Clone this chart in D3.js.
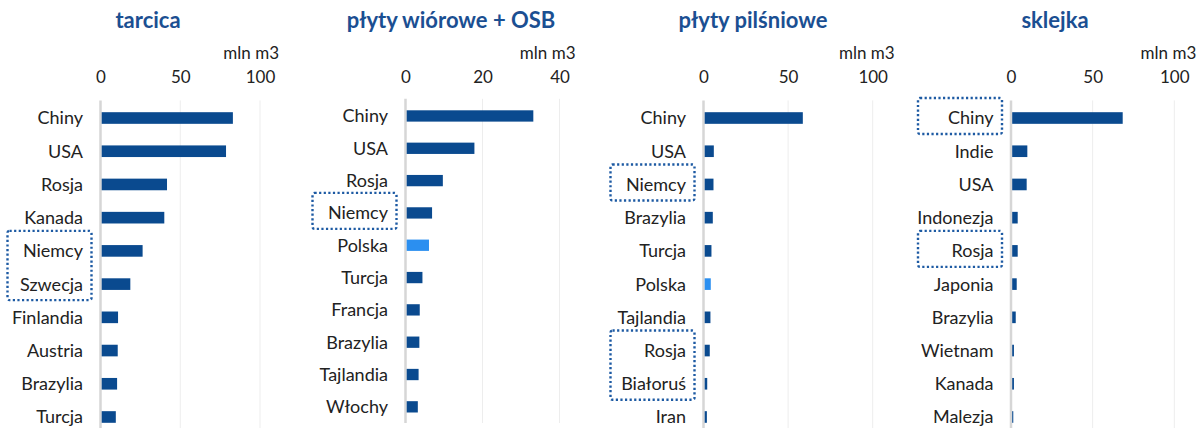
<!DOCTYPE html>
<html>
<head>
<meta charset="utf-8">
<script src="https://cdn.jsdelivr.net/npm/d3@7"></script>
<style>
    body { margin: 0; background: #fff; }
    svg { display: block; font-family: Lato, "Noto Sans", sans-serif; }
</style>
</head>
<body>
<svg id="chart" width="1203" height="428"></svg>
<script>
// data (mln m3)
const titles = ["tarcica", "płyty wiórowe + OSB", "płyty pilśniowe", "sklejka"];
const unitLabel = "mln m3";

const tarcicaCountries = ["Chiny", "USA", "Rosja", "Kanada", "Niemcy", "Szwecja", "Finlandia", "Austria", "Brazylia", "Turcja"];
const tarcicaValues = [83, 78.7, 41.7, 40, 26.4, 18.7, 11, 10.8, 10.4, 9.6];
const tarcicaTicks = [0, 50, 100];
const tarcicaBoxes = [["Niemcy", "Szwecja"]];

const osbCountries = ["Chiny", "USA", "Rosja", "Niemcy", "Polska", "Turcja", "Francja", "Brazylia", "Tajlandia", "Włochy"];
const osbValues = [33.2, 17.9, 9.7, 6.9, 6.1, 4.4, 3.7, 3.6, 3.4, 3.2];
const osbTicks = [0, 20, 40];
const osbBoxes = [["Niemcy"]];

const pilsnioweCountries = ["Chiny", "USA", "Niemcy", "Brazylia", "Turcja", "Polska", "Tajlandia", "Rosja", "Białoruś", "Iran"];
const pilsnioweValues = [58.7, 6.1, 5.9, 5.5, 4.7, 4.3, 4.1, 3.7, 2.2, 2.0];
const pilsnioweTicks = [0, 50, 100];
const pilsnioweBoxes = [["Niemcy"], ["Rosja", "Białoruś"]];

const sklejkaCountries = ["Chiny", "Indie", "USA", "Indonezja", "Rosja", "Japonia", "Brazylia", "Wietnam", "Kanada", "Malezja"];
const sklejkaValues = [68.4, 10, 9.6, 4.1, 4.1, 3.5, 2.9, 1.8, 1.8, 1.4];
const sklejkaTicks = [0, 50, 100];
const sklejkaBoxes = [["Chiny"], ["Rosja"]];

const highlight = "Polska";

// panel geometry
const panels = [
    {title: titles[0], cats: tarcicaCountries, vals: tarcicaValues, ticks: tarcicaTicks, boxes: tarcicaBoxes,
        cx: 148, x: [100.5, 260], y: [101.4, 433.6], unitDx: 19},
    {title: titles[1], cats: osbCountries, vals: osbValues, ticks: osbTicks, boxes: osbBoxes,
        cx: 451, x: [405.5, 559.5], y: [99.8, 423], unitDx: 16},
    {title: titles[2], cats: pilsnioweCountries, vals: pilsnioweValues, ticks: pilsnioweTicks, boxes: pilsnioweBoxes,
        cx: 753, x: [703.5, 872.7], y: [101.4, 433.6], unitDx: 22},
    {title: titles[3], cats: sklejkaCountries, vals: sklejkaValues, ticks: sklejkaTicks, boxes: sklejkaBoxes,
        cx: 1055, x: [1011, 1174.3], y: [101.4, 433.6], unitDx: 22}
];

const darkBlue = "#0a4a8f";
const lightBlue = "#2b8ff0";
const titleColor = "#1b4f92";
const textColor = "#222";

const svg = d3.select("#chart");

panels.forEach(p => {
    const g = svg.append("g");
    const domainMax = p.ticks[p.ticks.length - 1];

    const x = d3.scaleLinear().domain([0, domainMax]).range(p.x);
    const y = d3.scaleBand().domain(p.cats).range(p.y).paddingInner(0.65).paddingOuter(0.325);

    g.append("text")
        .attr("x", p.cx)
        .attr("y", 28)
        .attr("text-anchor", "middle")
        .attr("font-size", 22)
        .attr("font-weight", "bold")
        .attr("fill", titleColor)
        .text(p.title);

    g.append("text")
        .attr("x", x(domainMax) + p.unitDx)
        .attr("y", 59)
        .attr("text-anchor", "end")
        .attr("font-size", 17)
        .attr("fill", textColor)
        .text(unitLabel);

    // gridlines
    g.selectAll("line.grid")
        .data(p.ticks.slice(1))
        .enter().append("line")
        .attr("class", "grid")
        .attr("x1", d => x(d)).attr("x2", d => x(d))
        .attr("y1", p.y[0] - 1).attr("y2", p.y[1])
        .attr("stroke", "#ededed")
        .attr("stroke-width", 1);

    // top tick labels
    const axis = d3.axisTop(x).tickValues(p.ticks).tickSize(0).tickPadding(0).tickFormat(d3.format("d"));
    const ax = g.append("g").attr("transform", "translate(0,83)").call(axis);
    ax.select(".domain").remove();
    ax.selectAll("text")
        .attr("font-size", 17)
        .attr("font-family", "Lato, 'Noto Sans', sans-serif")
        .attr("fill", textColor)
        .attr("dy", 0);

    // zero line
    g.append("line")
        .attr("x1", x(0)).attr("x2", x(0))
        .attr("y1", p.y[0] - 1).attr("y2", p.y[1])
        .attr("stroke", "#d6d6d6")
        .attr("stroke-width", 2.5);

    g.selectAll("rect.bar")
        .data(p.cats.map((c, i) => ({cat: c, val: p.vals[i]})))
        .enter().append("rect")
        .attr("class", "bar")
        .attr("x", x(0) + 1.2)
        .attr("y", d => y(d.cat))
        .attr("width", d => Math.max(0, x(d.val) - x(0) - 1.2))
        .attr("height", y.bandwidth())
        .attr("fill", d => d.cat === highlight ? lightBlue : darkBlue);

    g.selectAll("text.cat")
        .data(p.cats)
        .enter().append("text")
        .attr("class", "cat")
        .attr("x", x(0) - 17.5)
        .attr("y", d => y(d) + y.bandwidth() / 2)
        .attr("dy", "0.36em")
        .attr("text-anchor", "end")
        .attr("font-size", 18)
        .attr("fill", textColor)
        .text(d => d);

    // dotted highlight boxes around labels
    p.boxes.forEach(group => {
        const top = y(group[0]) + y.bandwidth() / 2 - 20;
        const bottom = y(group[group.length - 1]) + y.bandwidth() / 2 + 16;
        g.append("rect")
            .attr("x", x(0) - 93)
            .attr("y", top)
            .attr("width", 84)
            .attr("height", bottom - top)
            .attr("rx", 2)
            .attr("fill", "none")
            .attr("stroke", "#1d5aa3")
            .attr("stroke-width", 2.4)
            .attr("stroke-dasharray", "2.2,2.4");
    });
});
</script>
</body>
</html>
